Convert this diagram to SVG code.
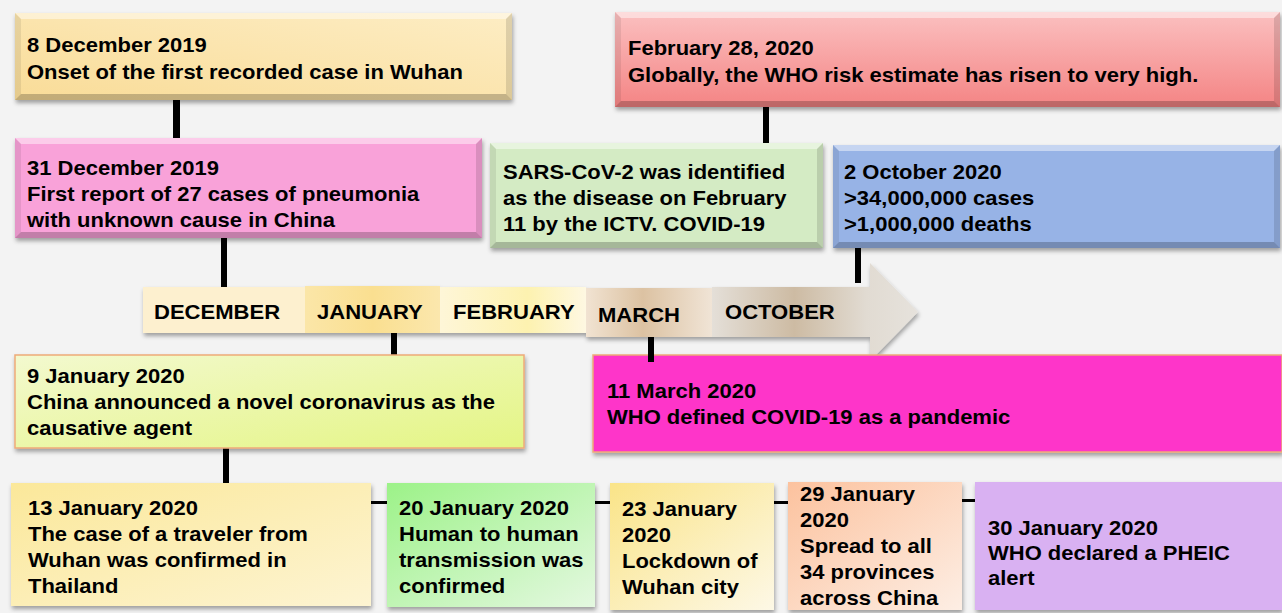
<svg xmlns="http://www.w3.org/2000/svg" width="1282" height="613" viewBox="0 0 1282 613">
<style>
text{font-family:"Liberation Sans",Arial,sans-serif;font-weight:bold;font-size:20px;fill:#000}
.tl{font-size:21px}
.bt{fill:#fff;opacity:.45}
.bl{fill:#000;opacity:.08}
.br{fill:#000;opacity:.12}
.bb{fill:#000;opacity:.22}
.conn{fill:#000}
.glow{stroke:#eeaa78;stroke-width:1.5}
</style>
<defs>
<filter id="sh" x="-5%" y="-10%" width="110%" height="130%">
<feDropShadow dx="1" dy="3" stdDeviation="2" flood-color="#000" flood-opacity="0.35"/>
</filter>
<linearGradient id="gB1" x1="0" y1="1" x2="1" y2="0"><stop offset="0" stop-color="#f9dc98"/><stop offset="1" stop-color="#fdedc4"/></linearGradient>
<linearGradient id="gB4" x1="0" y1="0" x2="0" y2="1"><stop offset="0" stop-color="#fbc0c0"/><stop offset="1" stop-color="#f48484"/></linearGradient>
<linearGradient id="gJan" x1="0" y1="0" x2="1" y2="0"><stop offset="0" stop-color="#fbe6a8"/><stop offset="0.5" stop-color="#fadf90"/><stop offset="1" stop-color="#fbe7ad"/></linearGradient>
<linearGradient id="gFeb" x1="0" y1="0" x2="1" y2="0"><stop offset="0" stop-color="#fef6d8"/><stop offset="0.6" stop-color="#fdf2b0"/><stop offset="1" stop-color="#fef8e2"/></linearGradient>
<linearGradient id="gMar" x1="0" y1="0" x2="1" y2="0"><stop offset="0" stop-color="#f1e3d2"/><stop offset="0.45" stop-color="#dcc2a2"/><stop offset="1" stop-color="#f0e4d6"/></linearGradient>
<linearGradient id="gOct" gradientUnits="userSpaceOnUse" x1="712" y1="0" x2="918" y2="0"><stop offset="0" stop-color="#e4dfd8"/><stop offset="0.4" stop-color="#cdbba3"/><stop offset="0.75" stop-color="#e1dbd2"/><stop offset="1" stop-color="#e6e2dc"/></linearGradient>
<linearGradient id="g9" x1="0" y1="0" x2="1" y2="1"><stop offset="0" stop-color="#f3f9cf"/><stop offset="1" stop-color="#e4f584"/></linearGradient>
<linearGradient id="g13" x1="0" y1="0" x2="1" y2="1"><stop offset="0" stop-color="#fbe89a"/><stop offset="1" stop-color="#fdf4d2"/></linearGradient>
<linearGradient id="g20" x1="0" y1="0" x2="1" y2="1"><stop offset="0" stop-color="#9cf288"/><stop offset="1" stop-color="#e4f8e0"/></linearGradient>
<linearGradient id="g23" x1="0" y1="0" x2="1" y2="1"><stop offset="0" stop-color="#fae488"/><stop offset="1" stop-color="#fdf8e6"/></linearGradient>
<linearGradient id="g29" x1="0" y1="0" x2="1" y2="1"><stop offset="0" stop-color="#fcc29e"/><stop offset="1" stop-color="#fdeee4"/></linearGradient>
</defs>
<rect width="1282" height="613" fill="#f3f3f3"/>

<g id="timeline" filter="url(#sh)">
<polygon points="712,287 870,287 870,263 918,312 870,361 870,337 712,337" fill="url(#gOct)"/>
<rect x="143" y="287" width="162" height="46" fill="#fdf0cf"/>
<rect x="305" y="286" width="135" height="47" fill="url(#gJan)"/>
<rect x="440" y="287" width="146" height="46" fill="url(#gFeb)"/>
<rect x="586" y="288" width="126" height="49" fill="url(#gMar)"/>
</g>
<g id="timeline-labels">
<text class="tl" transform="translate(154,319) scale(1.05 1)">DECEMBER</text>
<text class="tl" transform="translate(317,319) scale(1.05 1)">JANUARY</text>
<text class="tl" transform="translate(453,319) scale(1.05 1)">FEBRUARY</text>
<text class="tl" transform="translate(598,322) scale(1.05 1)">MARCH</text>
<text class="tl" transform="translate(725,319) scale(1.05 1)">OCTOBER</text>
</g>

<g id="connectors">
<rect class="conn" x="173" y="100" width="7" height="38"/>
<rect class="conn" x="221" y="238" width="6" height="49"/>
<rect class="conn" x="763" y="107" width="6" height="36"/>
<rect class="conn" x="855" y="248" width="6" height="35"/>
<rect class="conn" x="391" y="333" width="6" height="22"/>
<rect class="conn" x="223" y="448" width="6" height="35"/>
<rect class="conn" x="371" y="501" width="16" height="3"/>
<rect class="conn" x="595" y="501" width="15" height="3"/>
<rect class="conn" x="774" y="501" width="14" height="3"/>
<rect class="conn" x="962" y="499" width="13" height="3"/>
</g>

<g id="n-dec8">
<rect x="15" y="13" width="497" height="87" fill="url(#gB1)" filter="url(#sh)"/>
<polygon class="bt" points="15,13 512,13 506,19 21,19"/>
<polygon class="bl" points="15,13 21,19 21,94 15,100"/>
<polygon class="bb" points="15,100 21,94 506,94 512,100"/>
<polygon class="br" points="512,13 512,100 506,94 506,19"/>
<text transform="translate(27,52) scale(1.1 1)"><tspan x="0" y="0">8 December 2019</tspan><tspan x="0" y="27">Onset of the first recorded case in Wuhan</tspan></text>
</g>

<g id="n-dec31">
<rect x="15" y="138" width="467" height="100" fill="#f9a2d9" filter="url(#sh)"/>
<polygon class="bt" points="15,138 482,138 476,144 21,144"/>
<polygon class="bl" points="15,138 21,144 21,232 15,238"/>
<polygon class="bb" points="15,238 21,232 476,232 482,238"/>
<polygon class="br" points="482,138 482,238 476,232 476,144"/>
<text transform="translate(27,175) scale(1.1 1)"><tspan x="0" y="0">31 December 2019</tspan><tspan x="0" y="26">First report of 27 cases of pneumonia</tspan><tspan x="0" y="52">with unknown cause in China</tspan></text>
</g>

<g id="n-sars">
<rect x="490" y="143" width="333" height="105" fill="#d4ebc4" filter="url(#sh)"/>
<polygon class="bt" points="490,143 823,143 817,149 496,149"/>
<polygon class="bl" points="490,143 496,149 496,242 490,248"/>
<polygon class="bb" points="490,248 496,242 817,242 823,248"/>
<polygon class="br" points="823,143 823,248 817,242 817,149"/>
<text transform="translate(503,179) scale(1.1 1)"><tspan x="0" y="0">SARS-CoV-2 was identified</tspan><tspan x="0" y="26">as the disease on February</tspan><tspan x="0" y="52">11 by the ICTV. COVID-19</tspan></text>
</g>

<g id="n-feb28">
<rect x="615" y="12" width="665" height="95" fill="url(#gB4)" filter="url(#sh)"/>
<polygon class="bt" points="615,12 1280,12 1274,18 621,18"/>
<polygon class="bl" points="615,12 621,18 621,101 615,107"/>
<polygon class="bb" points="615,107 621,101 1274,101 1280,107"/>
<polygon class="br" points="1280,12 1280,107 1274,101 1274,18"/>
<text transform="translate(628,55) scale(1.1 1)"><tspan x="0" y="0">February 28, 2020</tspan><tspan x="0" y="27">Globally, the WHO risk estimate has risen to very high.</tspan></text>
</g>

<g id="n-oct2">
<rect x="833" y="145" width="447" height="103" fill="#97b3e6" filter="url(#sh)"/>
<polygon class="bt" points="833,145 1280,145 1274,151 839,151"/>
<polygon class="bl" points="833,145 839,151 839,242 833,248"/>
<polygon class="bb" points="833,248 839,242 1274,242 1280,248"/>
<polygon class="br" points="1280,145 1280,248 1274,242 1274,151"/>
<text transform="translate(844,179) scale(1.1 1)"><tspan x="0" y="0">2 October 2020</tspan><tspan x="0" y="26">&gt;34,000,000 cases</tspan><tspan x="0" y="52">&gt;1,000,000 deaths</tspan></text>
</g>

<g id="n-jan9">
<rect class="glow" x="15" y="355" width="509" height="93" fill="url(#g9)" filter="url(#sh)"/>
<text transform="translate(27,383) scale(1.1 1)"><tspan x="0" y="0">9 January 2020</tspan><tspan x="0" y="26">China announced a novel coronavirus as the</tspan><tspan x="0" y="52">causative agent</tspan></text>
</g>

<g id="n-mar11">
<rect class="glow" x="593" y="355" width="689" height="97" fill="#fe35c9" filter="url(#sh)"/>
<text transform="translate(607,398) scale(1.1 1)"><tspan x="0" y="0">11 March 2020</tspan><tspan x="0" y="26">WHO defined COVID-19 as a pandemic</tspan></text>
</g>
<rect class="conn" x="648" y="337" width="6" height="25"/>

<g id="n-jan13">
<rect x="11" y="483" width="360" height="123" fill="url(#g13)" filter="url(#sh)"/>
<text transform="translate(28,515) scale(1.1 1)"><tspan x="0" y="0">13 January 2020</tspan><tspan x="0" y="26">The case of a traveler from</tspan><tspan x="0" y="52">Wuhan was confirmed in</tspan><tspan x="0" y="78">Thailand</tspan></text>
</g>

<g id="n-jan20">
<rect x="387" y="483" width="208" height="124" fill="url(#g20)" filter="url(#sh)"/>
<text transform="translate(399,515) scale(1.1 1)"><tspan x="0" y="0">20 January 2020</tspan><tspan x="0" y="26">Human to human</tspan><tspan x="0" y="52">transmission was</tspan><tspan x="0" y="78">confirmed</tspan></text>
</g>

<g id="n-jan23">
<rect x="610" y="483" width="164" height="127" fill="url(#g23)" filter="url(#sh)"/>
<text transform="translate(622,516) scale(1.1 1)"><tspan x="0" y="0">23 January</tspan><tspan x="0" y="26">2020</tspan><tspan x="0" y="52">Lockdown of</tspan><tspan x="0" y="78">Wuhan city</tspan></text>
</g>

<g id="n-jan29">
<rect x="788" y="482" width="174" height="128" fill="url(#g29)" filter="url(#sh)"/>
<text transform="translate(800,501) scale(1.1 1)"><tspan x="0" y="0">29 January</tspan><tspan x="0" y="26">2020</tspan><tspan x="0" y="52">Spread to all</tspan><tspan x="0" y="78">34 provinces</tspan><tspan x="0" y="104">across China</tspan></text>
</g>

<g id="n-jan30">
<rect x="975" y="482" width="307" height="128" fill="#d9b1f2" filter="url(#sh)"/>
<text transform="translate(988,535) scale(1.1 1)"><tspan x="0" y="0">30 January 2020</tspan><tspan x="0" y="25">WHO declared a PHEIC</tspan><tspan x="0" y="50">alert</tspan></text>
</g>
</svg>
